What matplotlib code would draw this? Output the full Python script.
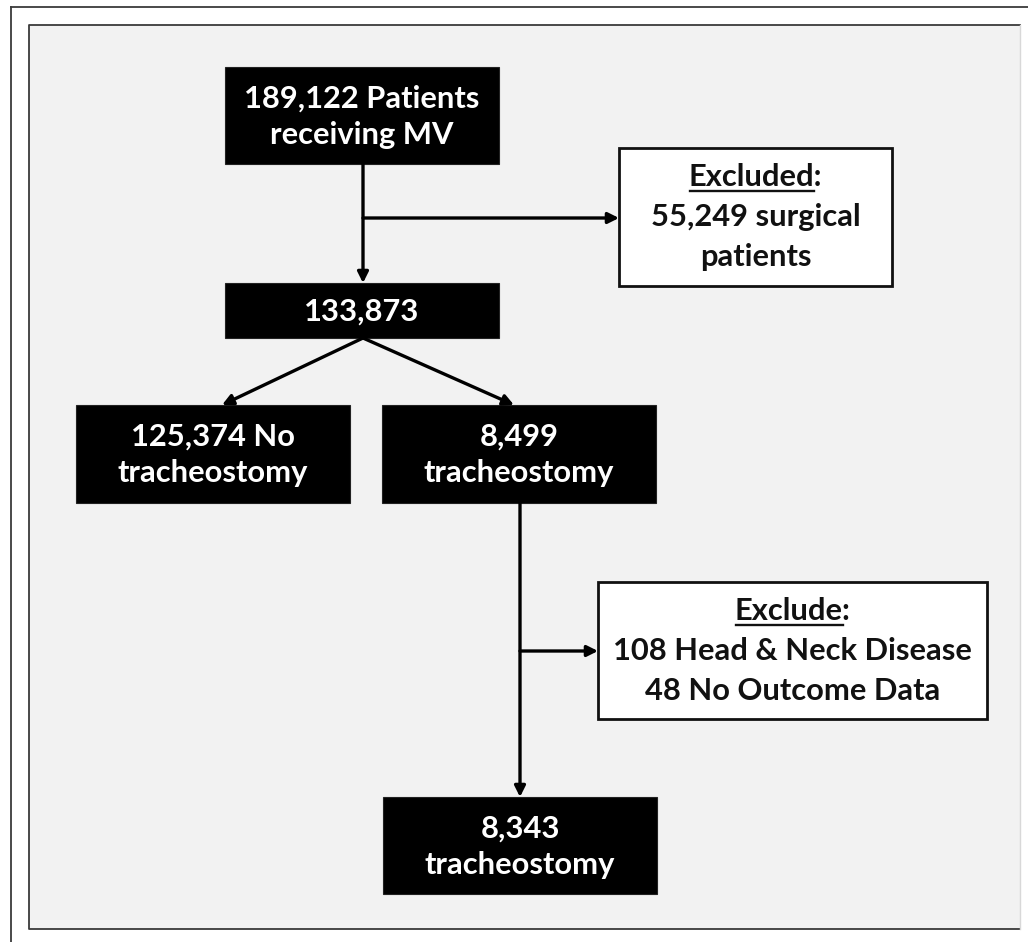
import matplotlib
matplotlib.use("Agg")
import matplotlib.pyplot as plt
from matplotlib.patches import Rectangle

# ===== data =====
black_labels = [
    "189,122 Patients\nreceiving MV",
    "133,873",
    "125,374 No\ntracheostomy",
    "8,499\ntracheostomy",
    "8,343\ntracheostomy",
]
excl_titles = ["Excluded", "Exclude"]
excl_lines = [
    ["55,249 surgical", "patients"],
    ["108 Head & Neck Disease", "48 No Outcome Data"],
]

# box layout in pixel coords (x0, y0, x1, y1), y grows downward
black_boxes = [
    (225, 67, 499, 164),
    (225, 283, 499, 338),
    (76, 405, 350, 503),
    (382, 405, 656, 503),
    (383, 797, 657, 894),
]
white_boxes = [
    (619, 148, 892, 286),
    (598, 582, 987, 719),
]

W, H = 1028, 942
fig = plt.figure(figsize=(W / 100, H / 100), dpi=100)
fig.patch.set_facecolor("white")
ax = fig.add_axes([0, 0, 1, 1])
ax.set_xlim(0, W)
ax.set_ylim(H, 0)
ax.axis("off")

FONT = "Lato"
FS = 22.2

# frames
ax.plot([11, 11], [H + 5, 7], color="#3a3a3a", lw=1.3)
ax.plot([11, W + 5], [7, 7], color="#3a3a3a", lw=1.3)
ax.add_patch(Rectangle((29, 25), 991, 904, facecolor="#f2f2f2", edgecolor="none"))
ax.plot([1020, 29, 29, 1020], [25, 25, 929, 929], color="#3a3a3a", lw=1.3)
ax.plot([1020, 1020], [25, 929], color="#d8d8d8", lw=1.0)

# black boxes
for (x0, y0, x1, y1), lab in zip(black_boxes, black_labels):
    ax.add_patch(Rectangle((x0, y0), x1 - x0, y1 - y0, facecolor="black",
                           edgecolor="#222222", lw=0.8))
    ax.text((x0 + x1) / 2, (y0 + y1) / 2 + 1, lab, color="white", ha="center",
            va="center", fontsize=FS, fontweight="bold", family=FONT,
            linespacing=1.38)

# white boxes
text_objs = []
for (x0, y0, x1, y1), title, lines in zip(white_boxes, excl_titles, excl_lines):
    ax.add_patch(Rectangle((x0, y0), x1 - x0, y1 - y0, facecolor="white",
                           edgecolor="#111111", lw=2.0))
    cx = (x0 + x1) / 2
    cy = (y0 + y1) / 2
    step = 40
    ys = [cy - step, cy, cy + step]
    t = ax.text(cx, ys[0], title + ":", color="#111111", ha="center",
                va="center", fontsize=FS, fontweight="bold", family=FONT)
    m = ax.text(0, 0, title, fontsize=FS, fontweight="bold", family=FONT,
                alpha=0)
    text_objs.append((t, m, ys[0]))
    for yy, ln in zip(ys[1:], lines):
        ax.text(cx, yy, ln, color="#111111", ha="center", va="center",
                fontsize=FS, fontweight="bold", family=FONT)

# underline titles
fig.canvas.draw()
r = fig.canvas.get_renderer()
inv = ax.transData.inverted()
for t, m, yy in text_objs:
    bb = t.get_window_extent(r)
    wb = m.get_window_extent(r)
    left = inv.transform((bb.x0, bb.y0))[0]
    right = inv.transform((bb.x0 + wb.width, bb.y0))[0]
    ax.plot([left + 1, right], [yy + 14, yy + 14], color="#111111", lw=1.7)

# connectors
LW = 2.4
arrow = dict(arrowstyle="-|>", color="black", lw=LW, mutation_scale=16,
             shrinkA=0, shrinkB=0)


def arr(x0, y0, x1, y1):
    ax.annotate("", xy=(x1, y1), xytext=(x0, y0), arrowprops=arrow)


arr(363, 164, 363, 283)
arr(363, 218, 619, 218)
arr(363, 338, 222, 405)
arr(363, 338, 514, 405)
arr(520, 503, 520, 797)
arr(520, 651, 598, 651)

fig.savefig("out.png", dpi=100, facecolor="white")
